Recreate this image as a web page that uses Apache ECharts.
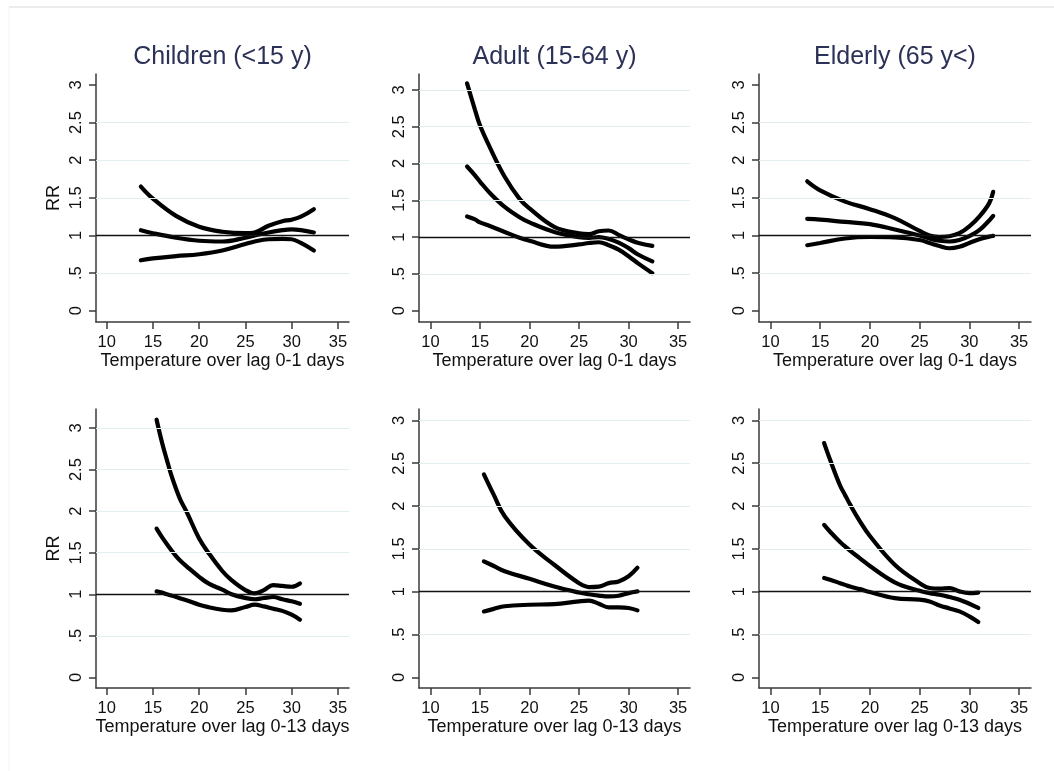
<!DOCTYPE html>
<html>
<head>
<meta charset="utf-8">
<script src="https://cdn.jsdelivr.net/npm/echarts@6/dist/echarts.min.js"></script>
<style>
  html, body { margin: 0; padding: 0; background: #fff; }
  #chart { width: 1054px; height: 771px; }
</style>
</head>
<body>
<div id="chart"></div>
<script>
var xTicks = [10, 15, 20, 25, 30, 35];
var yTicks = [0, 0.5, 1, 1.5, 2, 2.5, 3];
var groupTitles = ['Children (<15 y)', 'Adult (15-64 y)', 'Elderly (65 y<)'];
var lagNames = ['Temperature over lag 0-1 days', 'Temperature over lag 0-13 days'];

// lag 0-1, children
var tempChild01  = [13.7, 15, 17.5, 20, 22.5, 25, 26, 27.5, 29, 30, 31, 32.4];
var upperChild01 = [1.65, 1.49, 1.26, 1.116, 1.05, 1.03, 1.04, 1.13, 1.19, 1.21, 1.25, 1.35];
var rrChild01    = [1.07, 1.03, 0.97, 0.93, 0.92, 0.97, 1.0, 1.04, 1.07, 1.08, 1.07, 1.04];
var lowerChild01 = [0.67, 0.695, 0.725, 0.75, 0.80, 0.886, 0.92, 0.95, 0.955, 0.95, 0.90, 0.80];

// lag 0-1, adult
var tempAdult01  = [13.7, 14.5, 15, 16, 17.5, 19, 20, 22.5, 25, 26, 27, 28, 29, 30, 31, 32.4];
var upperAdult01 = [3.09, 2.73, 2.52, 2.22, 1.82, 1.52, 1.39, 1.14, 1.05, 1.04, 1.08, 1.09, 1.03, 0.97, 0.92, 0.88];
var rrAdult01    = [1.96, 1.84, 1.755, 1.6, 1.41, 1.27, 1.2, 1.07, 1.0, 0.99, 1.0, 0.975, 0.925, 0.85, 0.76, 0.67];
var lowerAdult01 = [1.28, 1.24, 1.2, 1.15, 1.07, 0.99, 0.95, 0.87, 0.90, 0.92, 0.93, 0.89, 0.83, 0.74, 0.64, 0.51];

// lag 0-1, elderly
var tempElder01  = [13.7, 15, 17.5, 20, 22.5, 25, 26, 27, 28, 29, 30, 31, 32, 32.4];
var upperElder01 = [1.72, 1.6, 1.45, 1.35, 1.23, 1.06, 1.0, 0.98, 0.99, 1.03, 1.12, 1.25, 1.43, 1.58];
var rrElder01    = [1.22, 1.21, 1.18, 1.15, 1.08, 1.0, 0.96, 0.93, 0.92, 0.94, 0.99, 1.07, 1.2, 1.26];
var lowerElder01 = [0.87, 0.9, 0.96, 0.98, 0.975, 0.94, 0.90, 0.86, 0.83, 0.85, 0.90, 0.95, 0.985, 0.995];

// lag 0-13, children
var tempChild013  = [15.4, 16, 16.5, 17, 17.5, 18, 18.7, 20, 21, 22.5, 23.5, 25, 26, 27, 28, 29, 30, 30.9];
var upperChild013 = [3.1, 2.82, 2.62, 2.43, 2.27, 2.13, 1.98, 1.67, 1.50, 1.28, 1.17, 1.05, 1.01, 1.05, 1.11, 1.10, 1.09, 1.13];
var rrChild013    = [1.79, 1.685, 1.605, 1.53, 1.46, 1.40, 1.33, 1.21, 1.13, 1.055, 1.0, 0.955, 0.94, 0.955, 0.967, 0.94, 0.915, 0.886];
var lowerChild013 = [1.035, 1.02, 1.0, 0.985, 0.967, 0.95, 0.925, 0.874, 0.845, 0.814, 0.806, 0.846, 0.874, 0.854, 0.826, 0.80, 0.754, 0.694];

// lag 0-13, adult
var tempAdult013  = [15.4, 16.4, 17.5, 20, 22.5, 25, 26, 27, 28, 29, 30, 30.9];
var upperAdult013 = [2.37, 2.13, 1.88, 1.55, 1.315, 1.10, 1.054, 1.06, 1.10, 1.12, 1.18, 1.28];
var rrAdult013    = [1.354, 1.30, 1.24, 1.15, 1.06, 0.99, 0.97, 0.955, 0.945, 0.953, 0.984, 1.004];
var lowerAdult013 = [0.77, 0.80, 0.83, 0.848, 0.856, 0.887, 0.895, 0.86, 0.817, 0.817, 0.81, 0.782];

// lag 0-13, elderly
var tempElder013  = [15.4, 16, 17, 17.5, 18, 19, 20, 22.5, 25, 26, 27, 28, 29, 30, 30.9];
var upperElder013 = [2.735, 2.54, 2.24, 2.13, 2.02, 1.82, 1.65, 1.315, 1.10, 1.043, 1.035, 1.043, 1.004, 0.984, 0.99];
var rrElder013    = [1.78, 1.70, 1.58, 1.53, 1.48, 1.39, 1.30, 1.11, 1.01, 0.984, 0.965, 0.938, 0.907, 0.86, 0.81];
var lowerElder013 = [1.16, 1.14, 1.10, 1.08, 1.06, 1.03, 0.996, 0.926, 0.907, 0.887, 0.84, 0.805, 0.77, 0.712, 0.646];

var panels = [
    {temp: tempChild01, curves: [upperChild01, rrChild01, lowerChild01]},
    {temp: tempAdult01, curves: [upperAdult01, rrAdult01, lowerAdult01]},
    {temp: tempElder01, curves: [upperElder01, rrElder01, lowerElder01]},
    {temp: tempChild013, curves: [upperChild013, rrChild013, lowerChild013]},
    {temp: tempAdult013, curves: [upperAdult013, rrAdult013, lowerAdult013]},
    {temp: tempElder013, curves: [upperElder013, rrElder013, lowerElder013]}
];

// layout of each plot region
var gridBoxes = [
    {left: 96,  top: 74,  width: 253, height: 248, ymin: -0.150, ymax: 3.146, grid3: false},
    {left: 419, top: 74,  width: 271, height: 248, ymin: -0.154, ymax: 3.217, grid3: true},
    {left: 759, top: 74,  width: 272, height: 248, ymin: -0.150, ymax: 3.146, grid3: false},
    {left: 96,  top: 409, width: 253, height: 279, ymin: -0.128, ymax: 3.229, grid3: true},
    {left: 419, top: 409, width: 271, height: 279, ymin: -0.124, ymax: 3.133, grid3: true},
    {left: 759, top: 409, width: 272, height: 279, ymin: -0.124, ymax: 3.133, grid3: true}
];

var FONT = '"Liberation Sans", Arial, sans-serif';
var AXIS_COLOR = '#3a3a3a';
var GRID_COLOR = '#e2eef0';
var TICK_FONT = 16.5;
var NAME_FONT = 18;

function pairs(xs, ys) {
    return xs.map(function (x, i) { return [x, ys[i]]; });
}

function gridMarkLines(withThree) {
    var values = [0.5, 1.5, 2, 2.5];
    if (withThree) values.push(3);
    var data = values.map(function (v) {
        return {yAxis: v, lineStyle: {color: GRID_COLOR, width: 1.2, type: 'solid'}};
    });
    data.push({yAxis: 1, lineStyle: {color: '#111', width: 1.3, type: 'solid'}});
    return {
        silent: true,
        symbol: 'none',
        label: {show: false},
        animation: false,
        data: data
    };
}

var grids = [], xAxes = [], yAxes = [], series = [], titles = [];

gridBoxes.forEach(function (b, i) {
    var col = i % 3, row = Math.floor(i / 3);
    grids.push({left: b.left, top: b.top, width: b.width, height: b.height, containLabel: false});

    xAxes.push({
        type: 'value', gridIndex: i, min: 8.85, max: 36.2,
        name: lagNames[row], nameLocation: 'middle', nameGap: 29,
        nameTextStyle: {fontFamily: FONT, fontSize: NAME_FONT, color: '#111'},
        axisLine: {show: true, onZero: false, lineStyle: {color: AXIS_COLOR, width: 1.5}},
        axisTick: {show: true, length: 7, customValues: xTicks, lineStyle: {color: AXIS_COLOR, width: 1.5}},
        axisLabel: {customValues: xTicks, margin: 12, fontFamily: FONT, fontSize: TICK_FONT, color: '#111'},
        splitLine: {show: false}
    });

    yAxes.push({
        type: 'value', gridIndex: i, min: b.ymin, max: b.ymax,
        name: col === 0 ? 'RR' : '', nameLocation: 'middle', nameGap: 33,
        nameTextStyle: {fontFamily: FONT, fontSize: NAME_FONT, color: '#111'},
        axisLine: {show: true, onZero: false, lineStyle: {color: AXIS_COLOR, width: 1.5}},
        axisTick: {show: true, length: 7, customValues: yTicks, lineStyle: {color: AXIS_COLOR, width: 1.5}},
        axisLabel: {
            customValues: yTicks, rotate: 90, margin: 11,
            fontFamily: FONT, fontSize: TICK_FONT, color: '#111',
            formatter: function (v) { return v === 0.5 ? '.5' : String(v); }
        },
        splitLine: {show: false}
    });

    panels[i].curves.forEach(function (ys, k) {
        var s = {
            type: 'line', xAxisIndex: i, yAxisIndex: i,
            data: pairs(panels[i].temp, ys),
            smooth: 0.4, showSymbol: false, symbol: 'none',
            lineStyle: {color: '#000', width: 4.2, cap: 'round'},
            z: 3
        };
        if (k === 0) s.markLine = gridMarkLines(b.grid3);
        series.push(s);
    });

    if (row === 0) {
        titles.push({
            text: groupTitles[col], left: b.left + b.width / 2, top: 45, textAlign: 'center', padding: 0,
            textStyle: {fontFamily: FONT, fontSize: 25, fontWeight: 'normal', color: '#2b3157'}
        });
    }
});

var chart = echarts.init(document.getElementById('chart'), null, {renderer: 'canvas'});
chart.setOption({
    animation: false,
    backgroundColor: '#fff',
    title: titles,
    grid: grids,
    xAxis: xAxes,
    yAxis: yAxes,
    series: series,
    graphic: [
        {type: 'line', shape: {x1: 9, y1: 7, x2: 1054, y2: 7}, style: {stroke: '#e6e6e6', lineWidth: 1.5}, silent: true},
        {type: 'line', shape: {x1: 9, y1: 7, x2: 9, y2: 771}, style: {stroke: '#f4f4f4', lineWidth: 1}, silent: true}
    ]
});
</script>
</body>
</html>
